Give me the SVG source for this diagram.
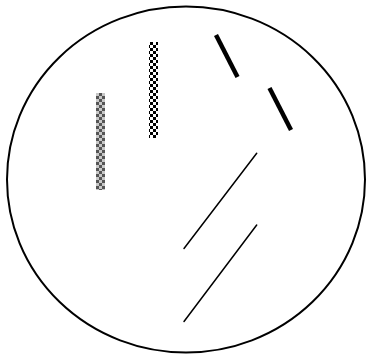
<svg xmlns="http://www.w3.org/2000/svg" width="367" height="355" viewBox="0 0 367 355">
<style>
.thick{stroke:#000;stroke-width:4.5;fill:none}
.thin{stroke:#000;stroke-width:1.5;fill:none;stroke-linecap:round}
</style>
<defs>
<pattern id="bw" x="0" y="0" width="6" height="6" patternUnits="userSpaceOnUse">
<rect width="6" height="6" fill="#fff"/>
<rect width="3" height="3" fill="#000"/>
<rect x="3" y="3" width="3" height="3" fill="#000"/>
</pattern>
<pattern id="gr" x="0" y="0" width="6" height="6" patternUnits="userSpaceOnUse">
<rect width="6" height="6" fill="#c8c8c8"/>
<rect width="3" height="3" fill="#555"/>
<rect x="3" y="3" width="3" height="3" fill="#555"/>
</pattern>
</defs>
<rect width="367" height="355" fill="#fff"/>
<g id="circle"><ellipse cx="186" cy="179.5" rx="179" ry="173" fill="none" stroke="#000" stroke-width="2"/></g>
<g id="bar1"><rect x="96" y="93" width="9" height="97" fill="url(#gr)"/></g>
<g id="bar2"><rect x="149" y="42" width="9" height="96" fill="url(#bw)"/></g>
<g id="connectors">
<line class="thick" x1="216" y1="35" x2="237.5" y2="77"/>
<line class="thick" x1="269.5" y1="88" x2="291" y2="130"/>
<line class="thin" x1="184" y1="248.5" x2="256.7" y2="153.3"/>
<line class="thin" x1="184" y1="321.5" x2="256.7" y2="225"/>
</g>
</svg>
